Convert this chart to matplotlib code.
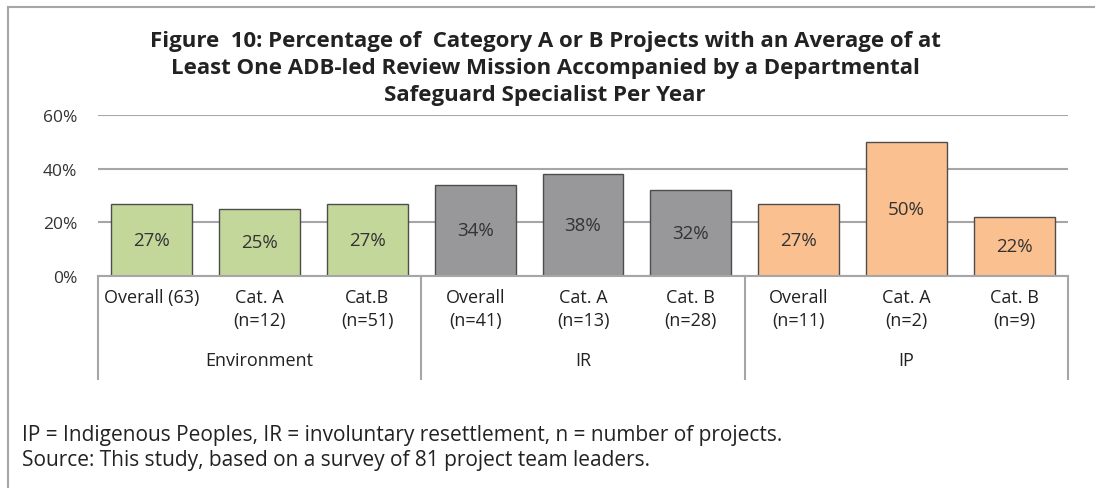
import matplotlib.pyplot as plt
from matplotlib.transforms import blended_transform_factory

plt.rcParams['font.family'] = ['Open Sans', 'DejaVu Sans']

# Data
cat_labels = ['Overall (63)', 'Cat. A\n(n=12)', 'Cat.B\n(n=51)',
              'Overall\n(n=41)', 'Cat. A\n(n=13)', 'Cat. B\n(n=28)',
              'Overall\n(n=11)', 'Cat. A\n(n=2)', 'Cat. B\n(n=9)']
values = [27, 25, 27, 34, 38, 32, 27, 50, 22]
groups = ['Environment', 'IR', 'IP']
group_colors = ['#C4D79B', '#98989B', '#FAC090']
per_group = 3

colors = [group_colors[i // per_group] for i in range(len(values))]
x = list(range(len(values)))

fig = plt.figure(figsize=(10.95, 4.89), dpi=100)
ax = fig.add_axes([98 / 1095, 1 - 277 / 489, (1068 - 98) / 1095, (277 - 116) / 489])

ax.set_ylim(0, 60)
ax.set_xlim(-0.5, len(values) - 0.5)
ax.set_yticks([0, 20, 40, 60])
ax.set_yticklabels(['0%', '20%', '40%', '60%'])
ax.yaxis.grid(True, color='#A6A6A6', linewidth=1.5)
ax.set_axisbelow(True)
ax.tick_params(axis='y', length=0, labelsize=12.5, labelcolor='#333333', pad=15)
ax.set_xticks([])
for s in ['top', 'right', 'left']:
    ax.spines[s].set_visible(False)
ax.spines['bottom'].set_color('#A6A6A6')
ax.spines['bottom'].set_linewidth(1.5)

bars = ax.bar(x, values, width=0.75, color=colors, edgecolor='#4D4D4D', linewidth=1)
for xi, v in zip(x, values):
    ax.text(xi, v / 2, f'{v}%', ha='center', va='center', fontsize=13.5, color='#333333')

# category axis with group boxes
tr = blended_transform_factory(ax.transData, ax.transAxes)
for xi, lab in zip(x, cat_labels):
    ax.text(xi, -0.075, lab, transform=tr, ha='center', va='top', fontsize=13,
            color='#222222', linespacing=1.35)
for gi, g in enumerate(groups):
    center = gi * per_group + (per_group - 1) / 2
    ax.text(center, -0.52, g, transform=tr, ha='center', va='center', fontsize=13, color='#222222')
for b in range(len(groups) + 1):
    xb = b * per_group - 0.5
    ax.plot([xb, xb], [0, -0.64], transform=tr, color='#A6A6A6', linewidth=1.5, clip_on=False)

# title
fig.text(545 / 1095, 1 - 31 / 489,
         'Figure  10: Percentage of  Category A or B Projects with an Average of at\n'
         'Least One ADB-led Review Mission Accompanied by a Departmental\n'
         'Safeguard Specialist Per Year',
         ha='center', va='top', fontsize=16, fontweight='bold', color='#222222',
         linespacing=1.36)

# notes
fig.text(22 / 1095, 1 - 436 / 489,
         'IP = Indigenous Peoples, IR = involuntary resettlement, n = number of projects.',
         ha='left', va='center', fontsize=15, color='#222222')
fig.text(22 / 1095, 1 - 461 / 489,
         'Source: This study, based on a survey of 81 project team leaders.',
         ha='left', va='center', fontsize=15, color='#222222')

# outer frame (top and left only)
fig.add_artist(plt.Line2D([8 / 1095, 1], [1 - 8 / 489, 1 - 8 / 489], transform=fig.transFigure,
                          color='#A6A6A6', linewidth=1.5))
fig.add_artist(plt.Line2D([8 / 1095, 8 / 1095], [0, 1 - 8 / 489], transform=fig.transFigure,
                          color='#A6A6A6', linewidth=1.5))

fig.savefig('out.png', dpi=100)
